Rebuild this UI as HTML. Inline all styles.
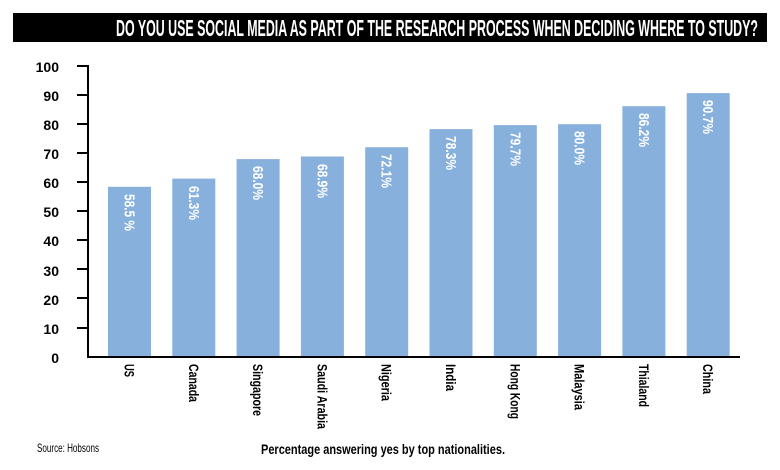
<!DOCTYPE html>
<html><head><meta charset="utf-8"><style>
html,body{margin:0;padding:0;background:#fff;}
svg{display:block;}
text{font-family:"Liberation Sans",sans-serif;font-weight:bold;}
</style></head><body>
<svg width="780" height="470" viewBox="0 0 780 470" xmlns="http://www.w3.org/2000/svg">
<rect x="13" y="13" width="754" height="29" fill="#000"/>
<text x="758" y="36" fill="#fff" font-size="23" text-anchor="end" textLength="642" lengthAdjust="spacingAndGlyphs">DO YOU USE SOCIAL MEDIA AS PART OF THE RESEARCH PROCESS WHEN DECIDING WHERE TO STUDY?</text>
<g fill="#000" font-size="14" text-anchor="end">
<text x="59" y="72">100</text><text x="59" y="101">90</text><text x="59" y="130">80</text><text x="59" y="159">70</text><text x="59" y="188">60</text><text x="59" y="217">50</text><text x="59" y="246">40</text><text x="59" y="276">30</text><text x="59" y="305">20</text><text x="59" y="334">10</text><text x="59" y="363">0</text>
</g>
<g fill="#88b0dd">
<rect x="108" y="186.8" width="43" height="169.2"/>
<rect x="172.3" y="178.6" width="43" height="177.4"/>
<rect x="236.6" y="159.1" width="43" height="196.9"/>
<rect x="300.9" y="156.5" width="43" height="199.5"/>
<rect x="365.2" y="147.2" width="43" height="208.8"/>
<rect x="429.5" y="129.1" width="43" height="226.9"/>
<rect x="493.8" y="125.1" width="43" height="230.9"/>
<rect x="558.1" y="124.2" width="43" height="231.8"/>
<rect x="622.4" y="106.2" width="43" height="249.8"/>
<rect x="686.7" y="93.1" width="43" height="262.9"/>
</g>
<g stroke="#000" stroke-width="2">
<line x1="88" y1="65" x2="88" y2="358"/>
<line x1="87" y1="357" x2="740" y2="357"/>
<line x1="77" y1="66" x2="88" y2="66"/><line x1="77" y1="95" x2="88" y2="95"/><line x1="77" y1="124" x2="88" y2="124"/><line x1="77" y1="153" x2="88" y2="153"/><line x1="77" y1="182" x2="88" y2="182"/><line x1="77" y1="211" x2="88" y2="211"/><line x1="77" y1="240" x2="88" y2="240"/><line x1="77" y1="269" x2="88" y2="269"/><line x1="77" y1="298" x2="88" y2="298"/><line x1="77" y1="328" x2="88" y2="328"/>
</g>
<g fill="#fff" font-size="15" lengthAdjust="spacingAndGlyphs">
<text transform="translate(124.5,194) rotate(90)" textLength="37" lengthAdjust="spacingAndGlyphs">58.5 %</text>
<text transform="translate(188.8,186) rotate(90)" textLength="34" lengthAdjust="spacingAndGlyphs">61.3%</text>
<text transform="translate(253.1,166) rotate(90)" textLength="34" lengthAdjust="spacingAndGlyphs">68.0%</text>
<text transform="translate(317.4,164) rotate(90)" textLength="34" lengthAdjust="spacingAndGlyphs">68.9%</text>
<text transform="translate(381.7,154) rotate(90)" textLength="34" lengthAdjust="spacingAndGlyphs">72.1%</text>
<text transform="translate(446,136) rotate(90)" textLength="34" lengthAdjust="spacingAndGlyphs">78.3%</text>
<text transform="translate(510.3,132) rotate(90)" textLength="34" lengthAdjust="spacingAndGlyphs">79.7%</text>
<text transform="translate(574.6,131) rotate(90)" textLength="34" lengthAdjust="spacingAndGlyphs">80.0%</text>
<text transform="translate(638.9,113) rotate(90)" textLength="34" lengthAdjust="spacingAndGlyphs">86.2%</text>
<text transform="translate(703.2,100) rotate(90)" textLength="34" lengthAdjust="spacingAndGlyphs">90.7%</text>
</g>
<g fill="#000" font-size="14">
<text transform="translate(124.5,364) rotate(90)" textLength="13" lengthAdjust="spacingAndGlyphs">US</text>
<text transform="translate(188.8,364) rotate(90)" textLength="38" lengthAdjust="spacingAndGlyphs">Canada</text>
<text transform="translate(253.1,364) rotate(90)" textLength="52" lengthAdjust="spacingAndGlyphs">Singapore</text>
<text transform="translate(317.4,364) rotate(90)" textLength="65" lengthAdjust="spacingAndGlyphs">Saudi Arabia</text>
<text transform="translate(381.7,364) rotate(90)" textLength="37" lengthAdjust="spacingAndGlyphs">Nigeria</text>
<text transform="translate(446,364) rotate(90)" textLength="27" lengthAdjust="spacingAndGlyphs">India</text>
<text transform="translate(510.3,364) rotate(90)" textLength="55" lengthAdjust="spacingAndGlyphs">Hong Kong</text>
<text transform="translate(574.6,364) rotate(90)" textLength="46" lengthAdjust="spacingAndGlyphs">Malaysia</text>
<text transform="translate(638.9,364) rotate(90)" textLength="43" lengthAdjust="spacingAndGlyphs">Thialand</text>
<text transform="translate(703.2,364) rotate(90)" textLength="30" lengthAdjust="spacingAndGlyphs">China</text>
</g>
<text x="37" y="452" font-size="12" fill="#000" style="font-weight:normal" textLength="62" lengthAdjust="spacingAndGlyphs">Source: Hobsons</text>
<text x="261" y="454" font-size="14" fill="#000" textLength="244" lengthAdjust="spacingAndGlyphs">Percentage answering yes by top nationalities.</text>
</svg>
</body></html>
